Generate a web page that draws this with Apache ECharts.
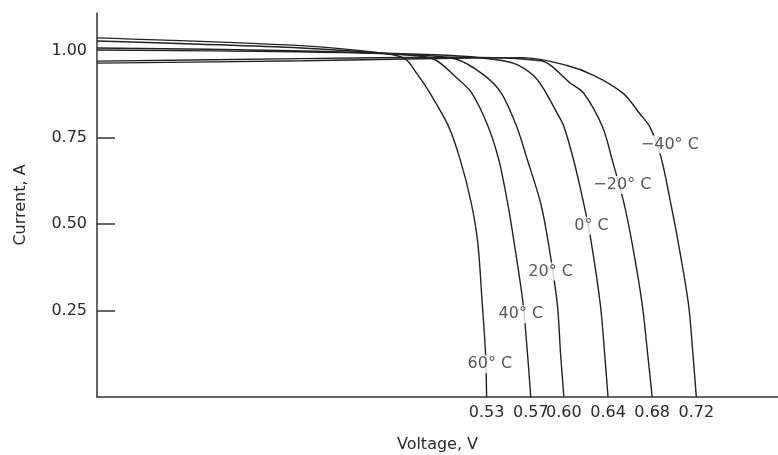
<!DOCTYPE html>
<html>
<head>
<meta charset="utf-8">
<script src="https://cdn.jsdelivr.net/npm/echarts@6/dist/echarts.min.js"></script>
<style>
  html, body { margin: 0; padding: 0; background: #fff; }
  #chart { width: 778px; height: 455px; }
</style>
</head>
<body>
<div id="chart"></div>
<script>
// curve names (temperature) and their open-circuit voltages
var temps = ['60° C', '40° C', '20° C', '0° C', '−20° C', '−40° C']
var vocTicks = [0.53, 0.57, 0.60, 0.64, 0.68, 0.72]
var yTicks = [0.25, 0.50, 0.75, 1.00]

// [voltage, current] points
var curve60 = [[0.177, 1.038], [0.365, 1.015], [0.438, 0.993], [0.456, 0.978], [0.467, 0.934], [0.478, 0.882], [0.495, 0.786], [0.506, 0.687], [0.516, 0.562], [0.522, 0.446], [0.526, 0.272], [0.529, 0.127], [0.530, 0]]
var curve40 = [[0.177, 1.029], [0.362, 1.009], [0.452, 0.990], [0.482, 0.977], [0.502, 0.925], [0.516, 0.881], [0.531, 0.785], [0.541, 0.686], [0.549, 0.561], [0.555, 0.445], [0.563, 0.271], [0.567, 0.126], [0.570, 0]]
var curve20 = [[0.177, 1.009], [0.355, 1.001], [0.463, 0.989], [0.502, 0.977], [0.527, 0.932], [0.543, 0.880], [0.557, 0.784], [0.567, 0.685], [0.579, 0.560], [0.586, 0.444], [0.594, 0.270], [0.597, 0.125], [0.600, 0]]
var curve0 = [[0.177, 1.003], [0.358, 0.998], [0.494, 0.988], [0.539, 0.975], [0.558, 0.960], [0.576, 0.917], [0.594, 0.820], [0.600, 0.782], [0.609, 0.683], [0.618, 0.559], [0.624, 0.463], [0.633, 0.268], [0.637, 0.123], [0.640, 0]]
var curveM20 = [[0.177, 0.971], [0.361, 0.978], [0.497, 0.982], [0.579, 0.972], [0.606, 0.907], [0.618, 0.878], [0.635, 0.781], [0.644, 0.683], [0.654, 0.566], [0.662, 0.441], [0.671, 0.267], [0.676, 0.122], [0.680, 0]]
var curveM40 = [[0.177, 0.965], [0.364, 0.972], [0.500, 0.979], [0.563, 0.981], [0.602, 0.959], [0.627, 0.930], [0.654, 0.877], [0.669, 0.818], [0.678, 0.780], [0.688, 0.693], [0.697, 0.557], [0.704, 0.440], [0.713, 0.266], [0.717, 0.121], [0.720, 0]]
var curves = [curve60, curve40, curve20, curve0, curveM20, curveM40]

// where each temperature label sits, [voltage, current]
var labelAt = [[0.533, 0.095], [0.561, 0.239], [0.588, 0.363], [0.625, 0.495], [0.653, 0.613], [0.696, 0.730]]

var chart = echarts.init(document.getElementById('chart'))

var font = 'DejaVu Sans'
var ink = '#222'
var textInk = '#2a2a2a'

var series = curves.map(function (pts, i) {
  return {
    name: temps[i],
    type: 'line',
    data: pts,
    showSymbol: false,
    smooth: 0.3,
    silent: true,
    lineStyle: { color: ink, width: 1.4 }
  }
})

series.push({
  type: 'scatter',
  z: 5,
  silent: true,
  symbolSize: 1,
  itemStyle: { color: 'rgba(0,0,0,0)' },
  data: labelAt.map(function (p, i) { return [p[0], p[1], temps[i]] }),
  label: {
    show: true,
    position: 'inside',
    formatter: function (p) { return p.value[2] },
    fontFamily: font,
    fontSize: 16,
    color: textInk,
    backgroundColor: '#fff',
    padding: [1, 1]
  }
})

chart.setOption({
  animation: false,
  backgroundColor: '#fff',
  grid: { left: 97, right: 0, top: 13, bottom: 58, outerBoundsMode: 'none' },
  xAxis: {
    type: 'value',
    min: 0.177,
    max: 0.794,
    name: 'Voltage, V',
    nameLocation: 'middle',
    nameGap: 40,
    nameTextStyle: { fontFamily: font, fontSize: 16, color: textInk },
    splitLine: { show: false },
    axisTick: { show: false },
    axisLine: { lineStyle: { color: '#333', width: 1.5 } },
    axisLabel: {
      customValues: vocTicks,
      margin: 8,
      fontFamily: font,
      fontSize: 16,
      color: textInk,
      formatter: function (v) { return v.toFixed(2) }
    }
  },
  yAxis: {
    type: 'value',
    min: 0,
    max: 1.11,
    interval: 0.25,
    name: 'Current, A',
    nameLocation: 'middle',
    nameGap: 68,
    nameTextStyle: { fontFamily: font, fontSize: 16, color: textInk },
    splitLine: { show: false },
    axisLine: { show: true, lineStyle: { color: '#333', width: 1.5 } },
    axisTick: {
      show: true,
      inside: true,
      length: 18,
      customValues: yTicks.slice(0, 3),
      lineStyle: { color: '#333', width: 1.5 }
    },
    axisLabel: {
      customValues: yTicks,
      margin: 10,
      fontFamily: font,
      fontSize: 16,
      color: textInk,
      formatter: function (v) { return v.toFixed(2) }
    }
  },
  series: series
})
</script>
</body>
</html>
